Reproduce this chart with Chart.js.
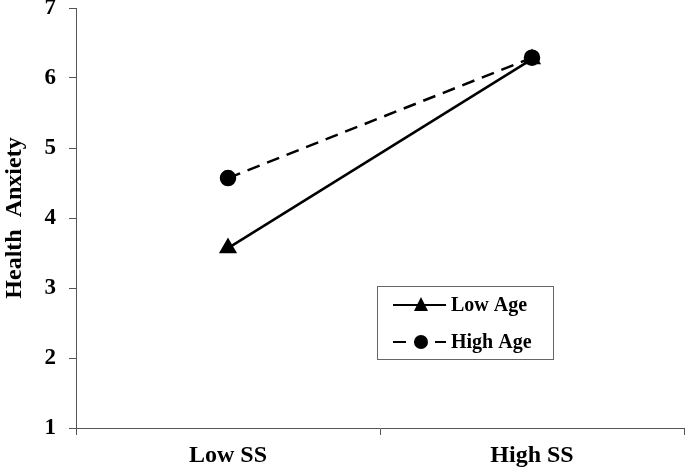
<!DOCTYPE html>
<html>
<head>
<meta charset="utf-8">
<script src="https://cdn.jsdelivr.net/npm/chart.js@4"></script>
<style>
  html, body { margin: 0; padding: 0; background: #fff; }
  #wrap { width: 685px; height: 469px; }
</style>
</head>
<body>
<div id="wrap"><canvas id="myChart" width="685" height="469"></canvas></div>
<script>
const categories = ["Low SS", "High SS"];
const lowAge = [3.57, 6.27];
const highAge = [4.57, 6.29];
const yTicks = [1, 2, 3, 4, 5, 6, 7];

const serif = "'Liberation Serif', 'Times New Roman', serif";

// legend drawn inside the plot area, like the original
const boxLegend = {
  id: "boxLegend",
  afterDraw(chart) {
    const ctx = chart.ctx;
    const x0 = 377, y0 = 286, w = 176, h = 73;
    ctx.save();
    ctx.fillStyle = "#fff";
    ctx.fillRect(x0, y0, w, h);
    ctx.strokeStyle = "#666";
    ctx.lineWidth = 1;
    ctx.strokeRect(x0 + 0.5, y0 + 0.5, w, h);
    chart.data.datasets.forEach((ds, i) => {
      const y = y0 + 19 + i * 37;
      ctx.strokeStyle = "#000";
      ctx.lineWidth = 2;
      ctx.setLineDash(ds.borderDash || []);
      ctx.beginPath();
      ctx.moveTo(x0 + 16, y);
      ctx.lineTo(x0 + 69, y);
      ctx.stroke();
      ctx.setLineDash([]);
      ctx.fillStyle = "#000";
      ctx.beginPath();
      if (ds.pointStyle === "triangle") {
        ctx.moveTo(x0 + 44, y - 8);
        ctx.lineTo(x0 + 51, y + 6);
        ctx.lineTo(x0 + 37, y + 6);
        ctx.closePath();
      } else {
        ctx.arc(x0 + 44, y, 7, 0, Math.PI * 2);
      }
      ctx.fill();
      ctx.font = "bold 20px " + serif;
      ctx.textBaseline = "middle";
      ctx.fillText(ds.label, x0 + 74, y + 1);
    });
    ctx.restore();
  },
};

const chartOne = document.getElementById("myChart").getContext("2d");
const lineChart = new Chart(chartOne, {
  type: "line",
  data: {
    labels: categories,
    datasets: [
      {
        label: "Low Age",
        data: lowAge,
        borderColor: "#000",
        backgroundColor: "#000",
        borderWidth: 2.5,
        pointStyle: "triangle",
        pointRadius: 8,
        pointHoverRadius: 8,
      },
      {
        label: "High Age",
        data: highAge,
        borderColor: "#000",
        backgroundColor: "#000",
        borderWidth: 2.5,
        borderDash: [13, 8],
        pointStyle: "circle",
        pointRadius: 7,
        pointHoverRadius: 7,
      },
    ],
  },
  options: {
    responsive: false,
    animation: false,
    layout: { autoPadding: false, padding: { top: 8, right: 1, left: 0, bottom: 0 } },
    plugins: {
      legend: { display: false },
      tooltip: { enabled: false },
    },
    scales: {
      x: {
        offset: true,
        afterFit: (scale) => {
          scale.height = 41;
          scale.paddingLeft = 0;
          scale.paddingRight = 0;
        },
        grid: {
          offset: true,
          drawOnChartArea: false,
          drawTicks: true,
          tickLength: 7,
          color: "#555",
        },
        border: { color: "#555", width: 1 },
        ticks: {
          color: "#000",
          padding: 6,
          font: { family: serif, size: 24, weight: "bold" },
        },
      },
      y: {
        min: 1,
        max: 7,
        afterBuildTicks: (axis) => {
          axis.ticks = yTicks.map((v) => ({ value: v }));
        },
        afterFit: (scale) => {
          scale.width = 76;
          scale.paddingTop = 0;
          scale.paddingBottom = 0;
        },
        grid: {
          drawOnChartArea: false,
          drawTicks: true,
          tickLength: 7,
          color: "#555",
        },
        border: { color: "#555", width: 1 },
        ticks: {
          color: "#000",
          padding: 13,
          font: { family: serif, size: 23, weight: "bold" },
        },
        title: {
          display: true,
          text: "Health  Anxiety",
          color: "#000",
          padding: { top: 0, bottom: 4 },
          font: { family: serif, size: 24, weight: "bold" },
        },
      },
    },
  },
  plugins: [boxLegend],
});
</script>
</body>
</html>
